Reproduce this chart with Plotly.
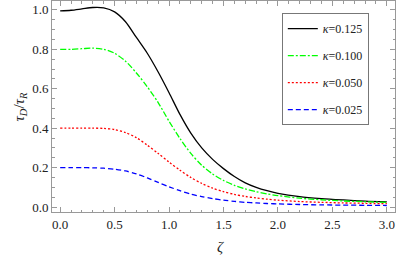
import plotly.graph_objects as go

zeta = [0.0, 0.1, 0.2, 0.3, 0.4, 0.5, 0.6, 0.7, 0.8, 0.9, 1.0, 1.1, 1.2, 1.3, 1.4,
        1.5, 1.6, 1.7, 1.8, 1.9, 2.0, 2.2, 2.4, 2.6, 2.8, 3.0]

k125 = [0.995, 0.998, 1.005, 1.012, 1.010, 0.990, 0.940, 0.860, 0.780, 0.685, 0.580,
        0.470, 0.375, 0.300, 0.242, 0.195, 0.155, 0.123, 0.100, 0.083, 0.070,
        0.053, 0.043, 0.036, 0.030, 0.026]
k100 = [0.800, 0.800, 0.803, 0.806, 0.800, 0.780, 0.740, 0.680, 0.610, 0.530, 0.435,
        0.348, 0.272, 0.212, 0.168, 0.135, 0.110, 0.092, 0.078, 0.067, 0.058,
        0.045, 0.037, 0.031, 0.027, 0.024]
k050 = [0.400, 0.400, 0.400, 0.400, 0.399, 0.393, 0.378, 0.352, 0.314, 0.272, 0.228,
        0.187, 0.150, 0.120, 0.096, 0.078, 0.064, 0.054, 0.046, 0.040, 0.035,
        0.028, 0.024, 0.021, 0.019, 0.017]
k025 = [0.200, 0.200, 0.200, 0.199, 0.197, 0.192, 0.183, 0.168, 0.148, 0.125, 0.103,
        0.083, 0.066, 0.053, 0.043, 0.035, 0.029, 0.024, 0.021, 0.018, 0.016,
        0.013, 0.011, 0.010, 0.009, 0.008]

kappas = ["0.125", "0.100", "0.050", "0.025"]
x_ticks = [0, 0.5, 1, 1.5, 2, 2.5, 3]
x_tick_labels = ["0.0", "0.5", "1.0", "1.5", "2.0", "2.5", "3.0"]
y_ticks = [0, 0.2, 0.4, 0.6, 0.8, 1.0]
y_tick_labels = ["0.0", "0.2", "0.4", "0.6", "0.8", "1.0"]

styles = [("black", "solid"), ("#00ff00", "6px,2px,2px,2px"),
          ("#ff0000", "2px,2px"), ("#0000ff", "5px,3px")]

fig = go.Figure()
for i, (kap, ys, (color, dash)) in enumerate(zip(kappas, [k125, k100, k050, k025], styles)):
    fig.add_trace(go.Scatter(
        x=zeta, y=ys, mode="lines", name="<i>κ</i>=" + kap,
        line=dict(color=color, dash=dash, width=1.3, shape="spline", smoothing=0.8),
        legendgroup=str(i),
    ))

font_family = "Liberation Serif, Times New Roman, serif"
axis_common = dict(
    showgrid=False, zeroline=False, showline=True, linecolor="#999999", linewidth=1,
    mirror="allticks", ticks="inside", ticklen=5, tickcolor="#999999", automargin=False,
    tickfont=dict(family=font_family, size=13, color="#222222"),
)

fig.update_xaxes(
    range=[-0.075, 3.075], tickvals=x_ticks, ticktext=x_tick_labels,
    minor=dict(dtick=0.1, tick0=0, ticks="inside", ticklen=2.5, tickcolor="#999999"),
    **axis_common,
)
fig.update_yaxes(
    range=[-0.025, 1.045], tickvals=y_ticks, ticktext=y_tick_labels,
    minor=dict(dtick=0.05, tick0=0, ticks="inside", ticklen=2.5, tickcolor="#999999"),
    **axis_common,
)

title_font = dict(family=font_family, size=15, color="#222222")
fig.add_annotation(text="<i>ζ</i>", xref="paper", yref="paper", x=0.49, y=-0.166,
                   xanchor="center", yanchor="middle", showarrow=False, font=title_font)
fig.add_annotation(text="<i>τ<sub>D</sub></i>/<i>τ<sub>R</sub></i>", xref="paper", yref="paper",
                   x=-0.096, y=0.5, xanchor="center", yanchor="middle", textangle=-90,
                   showarrow=False, font=title_font)

fig.update_layout(
    width=415, height=259,
    margin=dict(l=52, r=20, t=1, b=47),
    paper_bgcolor="white", plot_bgcolor="white",
    legend=dict(
        x=0.67, y=0.943, xanchor="left", yanchor="top",
        bordercolor="#777777", borderwidth=1, bgcolor="white",
        font=dict(family=font_family, size=12, color="#222222"),
        tracegroupgap=8, itemwidth=30,
        entrywidth=70, entrywidthmode="pixels",
    ),
    showlegend=True,
)

fig.write_html("out.html", config={"displayModeBar": False},
               post_script="document.body.style.margin='0';")
